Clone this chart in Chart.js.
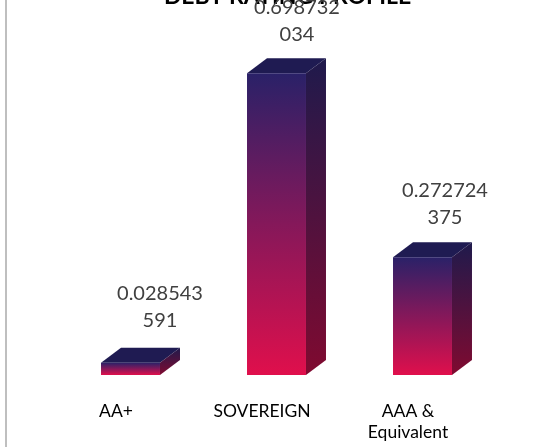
<!DOCTYPE html>
<html><head><meta charset="utf-8">
<style>
html,body{margin:0;padding:0;background:#fff;overflow:hidden}
#w{position:absolute;left:0;top:0;width:559px;height:447px;overflow:hidden}
canvas{display:block}
</style>
<script src="https://cdn.jsdelivr.net/npm/chart.js@4/dist/chart.umd.min.js"></script>
</head><body><div id="w"><canvas id="c" width="559" height="447"></canvas></div>
<script>
const categories = [['AA+'], ['SOVEREIGN'], ['AAA &', 'Equivalent']];
const seriesValues = [0.028543591, 0.698732034, 0.272724375];
const valueLabels = [['0.028543', '591'], ['0.698732', '034'], ['0.272724', '375']];
const chartTitle = 'DEBT RATING PROFILE';

const DX = 20, DY = 15;
const labelShift = [[29.5, -69], [20.5, -65.5], [22.5, -67]];
const FONT = 'Lato, Carlito, sans-serif';

function grad(ctx, y0, y1, stops) {
  const g = ctx.createLinearGradient(0, y0, 0, y1);
  stops.forEach((c, i) => g.addColorStop(i / (stops.length - 1), c));
  return g;
}
const FRONT = ['#2a2168', '#e00f4c'];
const SIDE = ['#1f1a4c', '#800a30'];

const threeD = {
  id: 'threeD',
  beforeDatasetsDraw(chart) {
    const ctx = chart.ctx;
    chart.getDatasetMeta(0).data.forEach(bar => {
      const half = bar.width / 2, l = bar.x - half, r = bar.x + half, t = bar.y, b = bar.base;
      ctx.fillStyle = '#1f1b52';
      ctx.beginPath();
      ctx.moveTo(l, t); ctx.lineTo(l + DX, t - DY); ctx.lineTo(r + DX, t - DY); ctx.lineTo(r, t);
      ctx.closePath(); ctx.fill();
      ctx.fillStyle = grad(ctx, t - DY, b, SIDE);
      ctx.beginPath();
      ctx.moveTo(r, t); ctx.lineTo(r + DX, t - DY); ctx.lineTo(r + DX, b - DY); ctx.lineTo(r, b);
      ctx.closePath(); ctx.fill();
    });
  },
  afterDraw(chart) {
    const ctx = chart.ctx;
    ctx.save();
    ctx.fillStyle = '#000';
    ctx.font = 'bold 23px ' + FONT;
    ctx.textAlign = 'center';
    ctx.textBaseline = 'middle';
    ctx.fillText(chartTitle, 287.5, -3);
    ctx.fillStyle = '#404040';
    ctx.font = '20px ' + FONT;
    chart.getDatasetMeta(0).data.forEach((bar, i) => {
      const [sx, sy] = labelShift[i];
      valueLabels[i].forEach((s, j) => ctx.fillText(s, bar.x + sx, bar.y + sy + j * 27));
    });
    ctx.fillStyle = '#bfbfbf';
    ctx.fillRect(5, 0, 2, 447);
    ctx.restore();
  }
};

new Chart(document.getElementById('c'), {
  type: 'bar',
  data: {
    labels: categories,
    datasets: [{
      data: seriesValues,
      backgroundColor(c) {
        const chart = c.chart;
        if (!chart.chartArea) return FRONT[0];
        const y = chart.scales.y;
        return grad(chart.ctx, y.getPixelForValue(c.raw ?? 0), y.getPixelForValue(0), FRONT);
      },
      borderWidth: 0,
      categoryPercentage: 1,
      barPercentage: 0.404
    }]
  },
  options: {
    responsive: false,
    animation: false,
    layout: { padding: { left: 57.5, right: 63.5, top: 29.4, bottom: 0 } },
    plugins: { legend: { display: false }, title: { display: false }, tooltip: { enabled: false } },
    scales: {
      x: {
        grid: { display: false },
        border: { display: false },
        afterFit(s) { s.height = 72; },
        ticks: {
          maxRotation: 0, autoSkip: false, color: '#000', padding: 18, labelOffset: -14.5,
          font: { family: FONT, size: 17.5, lineHeight: 1.2 }
        }
      },
      y: { display: false, min: 0, max: 0.8 }
    }
  },
  plugins: [threeD]
});
</script></body></html>
